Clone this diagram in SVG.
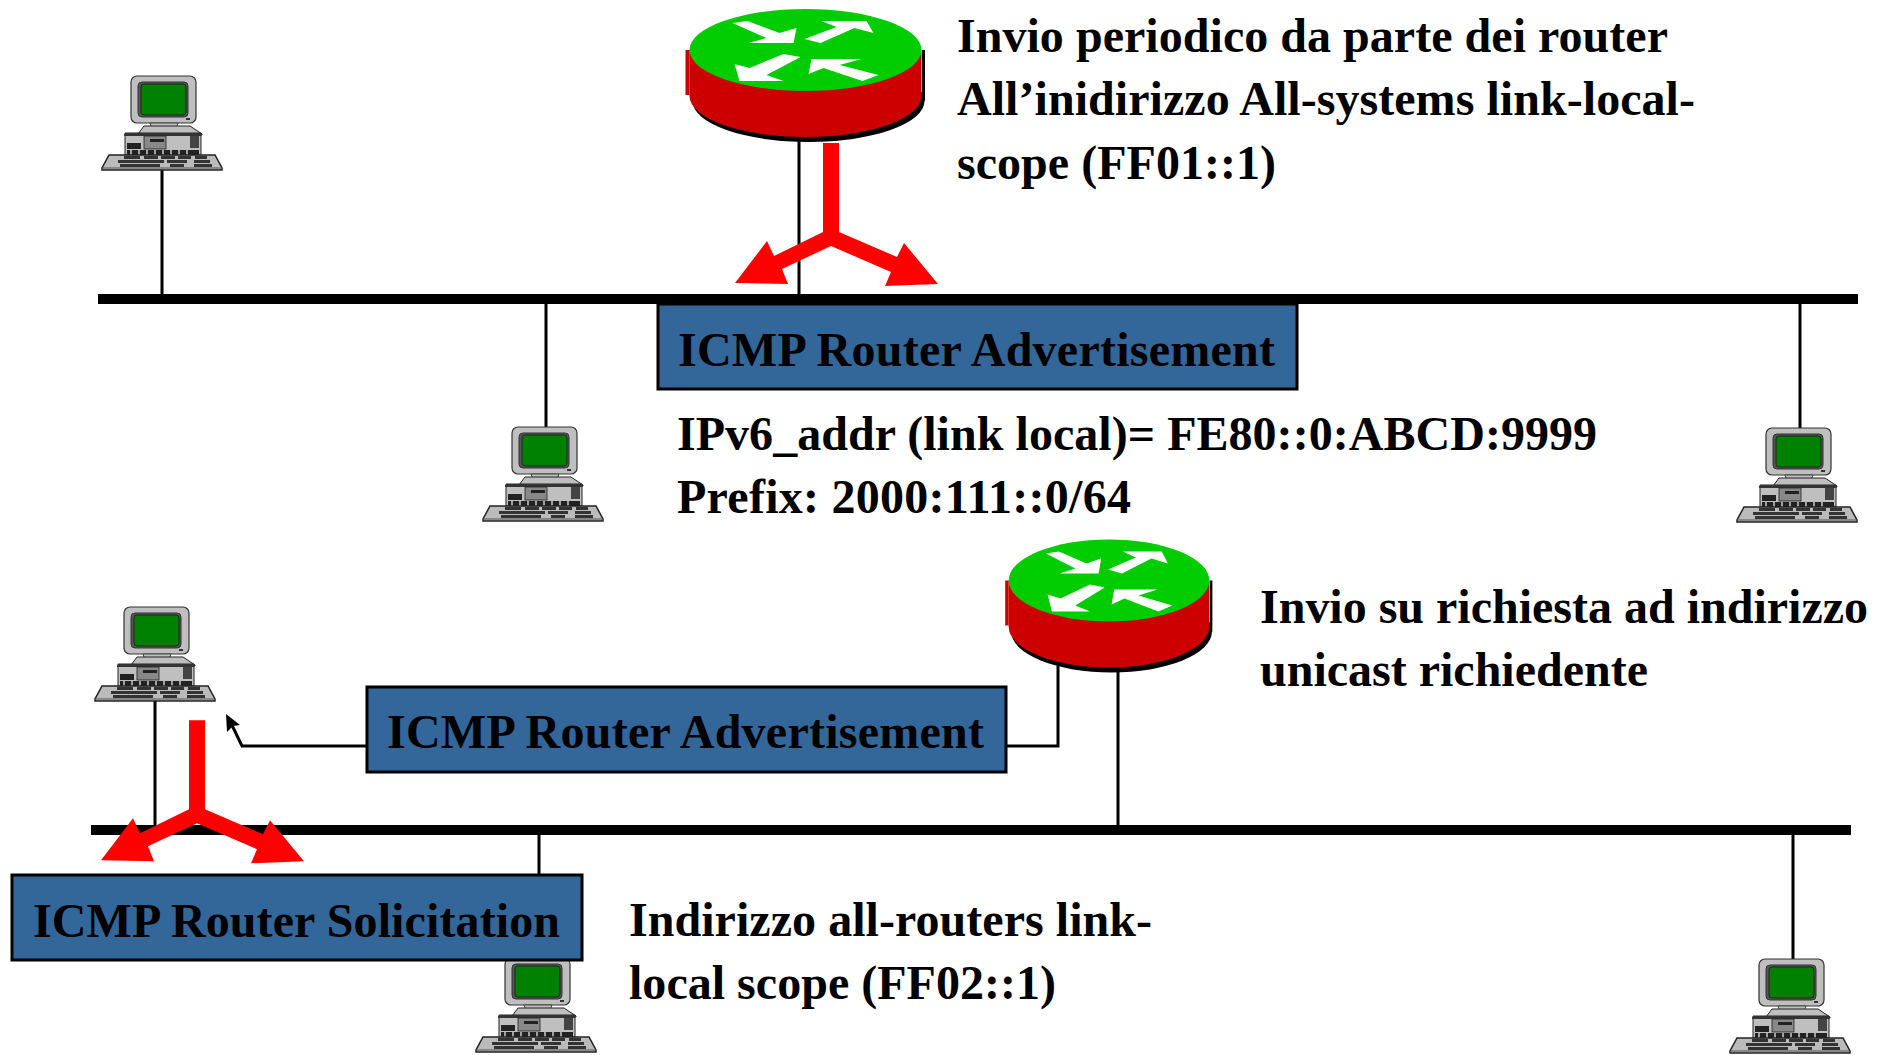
<svg xmlns="http://www.w3.org/2000/svg" width="1887" height="1055" viewBox="0 0 1887 1055">
<style>
text{font-family:"Liberation Serif","Times New Roman",serif;font-weight:bold;font-size:48px;fill:#000}
.w{stroke:#000;stroke-width:3;fill:none}
.bus{fill:#000}
.box{fill:#336699;stroke:#000;stroke-width:3}
.kb{fill:#333}
</style>
<defs>
<g id="router">
<ellipse cx="3" cy="51" rx="116" ry="41" fill="#000"/>
<path d="M116.500 0H119.500V51H116.500Z" fill="#000"/>
<path d="M-116 0V46A116 41 0 0 0 116 46V0Z" fill="#c00"/>
<rect x="-120" y="0" width="4" height="45" fill="#c00"/>
<ellipse cx="0" cy="0" rx="116" ry="41" fill="#0c0"/>
<g fill="#fff">
<polygon points="-73,-27 -58,-29 -26,-17 -9,-22 -12,-7 -57,-7 -39,-12"/>
<polygon points="-1,-11 31,-23 16,-29 61,-29 68,-17 49,-22 15,-7"/>
<polygon points="-71,14 -56,18 -22,4 -5,7 -39,25 -22,31 -66,31"/>
<polygon points="3,24 6,9 56,9 34,15 73,25 57,31 18,18"/>
</g>
</g>
<g id="pc">
<rect x="131" y="76" width="65" height="47" rx="6" fill="#bfbfbf" stroke="#333" stroke-width="1.200"/>
<rect x="138" y="82" width="50" height="35" rx="4" fill="#555" stroke="#333"/>
<rect x="141" y="84" width="45" height="31" rx="3" fill="#008000" stroke="#222"/>
<rect x="186" y="118" width="4" height="2" fill="#333"/>
<path d="M150 123H178L176 129H152Z" fill="#bfbfbf" stroke="#444"/>
<path d="M138 134L144 126H190L202 134V135H124Z" fill="#bfbfbf" stroke="#222"/>
<path d="M125 133H201V155H125Z" fill="#bfbfbf" stroke="#222"/>
<rect x="125" y="133" width="76" height="3" fill="#333"/>
<rect x="127" y="143" width="14" height="6" fill="#222"/>
<rect x="144" y="136" width="22" height="13" fill="#888" stroke="#222" stroke-width=".8"/>
<rect x="150" y="139" width="14" height="3" fill="#222"/>
<rect x="190" y="136" width="9" height="12" fill="#444"/>
<rect x="127" y="150" width="72" height="5" fill="#222"/>
<path d="M131 150v5M139 150v5M147 150v5M155 150v5M163 150v5M171 150v5M179 150v5M187 150v5" stroke="#ccc" stroke-width="1.500"/>
<path d="M109 155H215L222 168V170H102V168Z" fill="#bbb" stroke="#222" stroke-width="1.500"/>
<path d="M102 168H222" stroke="#555" stroke-width="1"/>
<rect x="124" y="156" width="16" height="3" class="kb"/><rect x="144" y="156" width="14" height="3" class="kb"/><rect x="161" y="156" width="14" height="3" class="kb"/><rect x="178" y="156" width="13" height="3" class="kb"/><rect x="195" y="156" width="12" height="3" class="kb"/>
<rect x="118" y="160" width="46" height="3" class="kb"/><rect x="167" y="160" width="20" height="3" class="kb"/><rect x="194" y="160" width="16" height="3" class="kb"/>
<rect x="120" y="164" width="40" height="3" class="kb"/><rect x="170" y="164" width="14" height="3" class="kb"/><rect x="194" y="164" width="18" height="3" class="kb"/>
</g>
<polygon id="burst" points="823,143 839,143 839,232 897,257 904,243 938,284 885,286 891,272 831,246 782,269 788,284 735,283 767,241 774,256 823,232" fill="#f00"/>
</defs>
<g id="connectors">
<rect class="bus" x="98" y="294" width="1760" height="10"/>
<rect class="bus" x="91" y="825" width="1760" height="10"/>
<path class="w" d="M162 170V296M546 300V432M799 135V296M1800 300V433"/>
<path class="w" d="M155 700V826M539 834V880M1118 665V826M1793 834V962"/>
<path class="w" d="M366 746H242L229 719M1006 746H1058V666"/>
<polygon points="226,714 240,725 233,726 227,732"/>
</g>
<g id="pc1"><use href="#pc"/></g>
<g id="pc2"><use href="#pc" x="381" y="351"/></g>
<g id="pc3"><use href="#pc" x="1635" y="352"/></g>
<g id="pc4"><use href="#pc" x="-7" y="531"/></g>
<g id="pc5"><use href="#pc" x="374" y="882"/></g>
<g id="pc6"><use href="#pc" x="1628" y="883"/></g>
<g id="router1"><use href="#router" transform="translate(805.500 50)"/></g>
<g id="router2"><use href="#router" transform="translate(1109 580.500) scale(.865 1)"/></g>
<use href="#burst"/>
<use href="#burst" x="-634" y="577.300"/>
<g id="box1"><rect class="box" x="658" y="304" width="639" height="85"/><text x="678" y="366" textLength="597">ICMP Router Advertisement</text></g>
<g id="box2"><rect class="box" x="367" y="687" width="639" height="85"/><text x="387" y="748" textLength="597">ICMP Router Advertisement</text></g>
<g id="box3"><rect class="box" x="12" y="875" width="570" height="85"/><text x="33" y="937" textLength="527">ICMP Router Solicitation</text></g>
<g id="labels">
<text x="957" y="52" textLength="711">Invio periodico da parte dei router</text>
<text x="957" y="115" textLength="738">All’inidirizzo All-systems link-local-</text>
<text x="957" y="179" textLength="319">scope (FF01::1)</text>
<text x="677" y="450" textLength="920">IPv6_addr (link local)= FE80::0:ABCD:9999</text>
<text x="677" y="513" textLength="454">Prefix: 2000:111::0/64</text>
<text x="1260" y="623" textLength="608">Invio su richiesta ad indirizzo</text>
<text x="1260" y="686" textLength="388">unicast richiedente</text>
<text x="629" y="936" textLength="523">Indirizzo all-routers link-</text>
<text x="629" y="999" textLength="427">local scope (FF02::1)</text>
</g>
</svg>
